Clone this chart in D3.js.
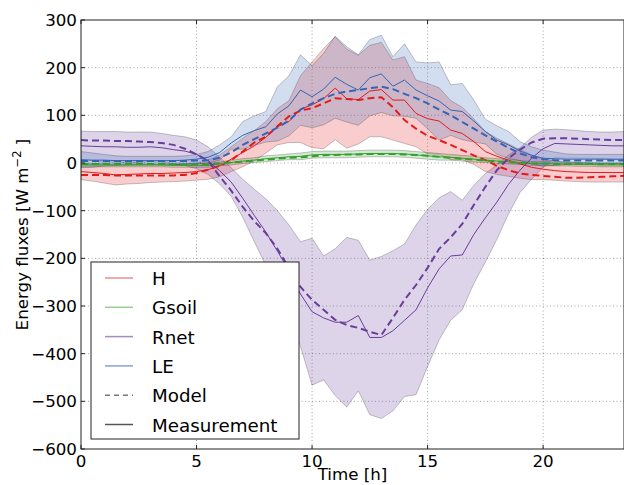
<!DOCTYPE html>
<html><head><meta charset="utf-8">
<script src="https://cdn.jsdelivr.net/npm/d3@7"></script>
<style>html,body{margin:0;padding:0;background:#fff;}svg{display:block;font-family:"DejaVu Sans",sans-serif;}</style>
</head><body><svg id="c" width="624" height="485"></svg>
<script>
const time = [0,0.5,1,1.5,2,2.5,3,3.5,4,4.5,5,5.5,6,6.5,7,7.5,8,8.5,9,9.5,10,10.5,11,11.5,12,12.5,13,13.5,14,14.5,15,15.5,16,16.5,17,17.5,18,18.5,19,19.5,20,20.5,21,21.5,22,22.5,23,23.5];

const H_meas = [-18,-20,-22,-25,-24,-23,-22,-22,-21,-20,-18,-14,-6,8,22,36,54,76,87,113,122,135,157,135,133,151,154,132,132,104,93,88,69,62,45,24,14,6,-2,-9,-13,-16,-18,-19,-20,-20,-20,-20];
const H_model = [-25,-25,-25,-26,-26,-26,-26,-26,-26,-25,-21,-14,-6,6,24,43,55,77,98,110,115,125,136,134,132,136,138,117,90,72,57,48,38,27,16,6,-6,-15,-22,-25,-27,-29,-31,-31,-30,-29,-28,-27];
const H_sd = [17,18,20,21,20,20,19,18,18,18,18,20,23,26,30,32,33,38,44,70,90,105,108,104,93,96,99,84,91,70,74,70,62,55,48,42,38,34,30,26,22,20,20,20,20,20,20,20];

const G_meas = [-4,-4,-4,-4,-4,-4,-4,-4,-5,-5,-5,-5,-2,1,4,6,9,11,13,14,17,18,18,18,19,20,20,20,19,17,15,13,12,10,8,6,4,3,1,-1,-1,-2,-2,-3,-3,-4,-4,-4];
const G_model = [-2,-2,-2,-2,-2,-2,-2,-2,-3,-3,-3,-3,-1,1,3,5,7,9,11,12,14,16,17,18,18,19,19,19,18,17,15,13,11,9,7,5,3,2,0,-1,-1,-2,-2,-2,-2,-2,-2,-2];
const G_sd = [4,4,4,4,4,4,4,4,4,4,4,4,4,5,5,5,6,6,6,7,7,7,7,7,7,7,7,7,7,7,7,7,6,6,6,5,5,5,4,4,4,4,4,4,4,4,4,4];

const R_meas = [36,35,34,34,33,33,34,32,28,25,18,5,-16,-40,-74,-110,-145,-185,-225,-275,-312,-325,-334,-334,-320,-366,-366,-352,-330,-308,-262,-222,-195,-193,-150,-115,-82,-45,-15,10,30,41,40,39,38,37,36,36];
const R_model = [48,47,47,46,46,45,44,42,38,30,18,5,-28,-58,-92,-122,-147,-180,-220,-260,-287,-308,-329,-340,-346,-354,-361,-325,-287,-256,-220,-180,-156,-128,-88,-50,-15,10,28,43,51,52,52,51,50,49,48,48];
const R_sd = [31,31,32,32,32,32,31,30,30,30,30,29,28,30,40,55,70,85,95,110,154,130,154,178,158,162,170,168,160,178,165,149,135,115,103,93,78,62,47,44,39,30,30,29,28,28,29,30];

const L_meas = [7,6,6,5,5,5,5,5,5,6,8,12,22,42,58,68,76,103,120,153,139,155,180,165,153,179,187,161,174,153,141,130,111,108,88,66,48,38,25,16,10,9,8,8,8,8,8,8];
const L_model = [4,4,4,4,4,4,4,4,4,4,5,6,11,22,38,50,62,74,89,112,125,136,145,150,153,157,160,155,145,136,125,112,100,86,72,58,45,32,20,12,8,6,5,5,5,5,5,5];
const L_sd = [17,15,12,10,9,9,9,9,9,9,10,12,16,13,29,31,32,57,63,74,65,75,86,79,74,80,81,62,76,59,69,82,53,59,44,26,30,28,20,18,17,14,11,10,10,10,10,10];

const xTicks = [0,5,10,15,20];
const yTicks = [-600,-500,-400,-300,-200,-100,0,100,200,300];
const legendLabels = ["H","Gsoil","Rnet","LE","Model","Measurement"];

const series = [
  {name:"H", color:"#e31a1c", meas:H_meas, model:H_model, sd:H_sd},
  {name:"Gsoil", color:"#33a02c", meas:G_meas, model:G_model, sd:G_sd},
  {name:"Rnet", color:"#6a3d9a", meas:R_meas, model:R_model, sd:R_sd},
  {name:"LE", color:"#3465b4", meas:L_meas, model:L_model, sd:L_sd}
];

const L = 81, R = 624, T = 20, B = 449;
const x = d3.scaleLinear().domain([0,23.5]).range([L,R]);
const y = d3.scaleLinear().domain([-600,300]).range([B,T]);
const svg = d3.select("#c");

svg.append("defs").append("clipPath").attr("id","clip")
  .append("rect").attr("x",L).attr("y",T).attr("width",R-L).attr("height",B-T);

// grid
const grid = svg.append("g");
xTicks.filter(t=>t>0).forEach(t=>grid.append("line").attr("x1",x(t)).attr("x2",x(t)).attr("y1",T).attr("y2",B));
yTicks.filter(t=>t>-600&&t<300).forEach(t=>grid.append("line").attr("x1",L).attr("x2",R).attr("y1",y(t)).attr("y2",y(t)));
grid.selectAll("line").attr("stroke","#000").attr("stroke-opacity",0.45).attr("stroke-width",0.8).attr("stroke-dasharray","1,2.5");

const plot = svg.append("g").attr("clip-path","url(#clip)");
const idx = d3.range(time.length);
series.forEach(s=>{
  const area = d3.area().x(i=>x(time[i])).y0(i=>y(s.meas[i]-s.sd[i])).y1(i=>y(s.meas[i]+s.sd[i]));
  plot.append("path").attr("d",area(idx)).attr("fill",s.color).attr("fill-opacity",0.22)
    .attr("stroke","#000").attr("stroke-opacity",0.22).attr("stroke-width",1);
});
series.forEach(s=>{
  const lm = d3.line().x(i=>x(time[i])).y(i=>y(s.model[i]));
  const ls = d3.line().x(i=>x(time[i])).y(i=>y(s.meas[i]));
  plot.append("path").attr("d",lm(idx)).attr("fill","none").attr("stroke",s.color).attr("stroke-width",2).attr("stroke-dasharray","7,4");
  plot.append("path").attr("d",ls(idx)).attr("fill","none").attr("stroke",s.color).attr("stroke-width",1);
});

// frame
svg.append("rect").attr("x",L).attr("y",T).attr("width",R-L).attr("height",B-T).attr("fill","none").attr("stroke","#222").attr("stroke-width",1);

// ticks
const tk = svg.append("g").attr("stroke","#222").attr("stroke-width",1);
xTicks.forEach(t=>{tk.append("line").attr("x1",x(t)).attr("x2",x(t)).attr("y1",B).attr("y2",B-4);
  tk.append("line").attr("x1",x(t)).attr("x2",x(t)).attr("y1",T).attr("y2",T+4);});
yTicks.forEach(t=>tk.append("line").attr("x1",L).attr("x2",L+4).attr("y1",y(t)).attr("y2",y(t)));

const fs = 16.7;
xTicks.forEach(t=>svg.append("text").attr("x",x(t)).attr("y",467).attr("text-anchor","middle").attr("font-size",fs).text(t));
yTicks.forEach(t=>svg.append("text").attr("x",77).attr("y",y(t)+6).attr("text-anchor","end").attr("font-size",fs).text(d3.format("")(t).replace("-","\u2212")));

svg.append("text").attr("x",(L+R)/2).attr("y",480).attr("text-anchor","middle").attr("font-size",fs).text("Time [h]");
const yl = svg.append("text").attr("transform",`translate(28,${(T+B)/2}) rotate(-90)`).attr("text-anchor","middle").attr("font-size",fs);
yl.append("tspan").text("Energy fluxes [W m");
yl.append("tspan").attr("dy",-7).attr("font-size",11.5).text("\u22122");
yl.append("tspan").attr("dy",7).text(" ]");

// legend
const lg = svg.append("g");
lg.append("rect").attr("x",91).attr("y",262).attr("width",208).attr("height",177).attr("fill","#fff").attr("stroke","#222").attr("stroke-width",1);
const legStyle = [
  {c:series[0].color, o:0.5, d:null},
  {c:series[1].color, o:0.5, d:null},
  {c:series[2].color, o:0.6, d:null},
  {c:series[3].color, o:0.6, d:null},
  {c:"#777", o:1, d:"5,4"},
  {c:"#555", o:1, d:null}
];
legendLabels.forEach((lab,i)=>{
  const yy = 278 + i*29.3;
  const ln = lg.append("line").attr("x1",105).attr("x2",133).attr("y1",yy).attr("y2",yy)
    .attr("stroke",legStyle[i].c).attr("stroke-opacity",legStyle[i].o).attr("stroke-width",1.5);
  if(legStyle[i].d) ln.attr("stroke-dasharray",legStyle[i].d);
  lg.append("text").attr("x",152).attr("y",yy+7).attr("font-size",18.3).text(lab);
});
</script></body></html>
